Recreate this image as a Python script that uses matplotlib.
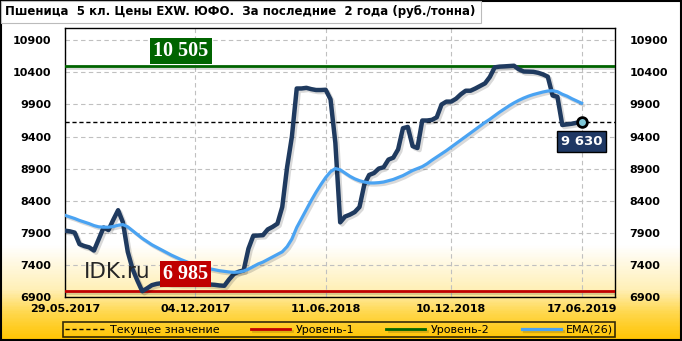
import numpy as np
import pandas as pd
import matplotlib.pyplot as plt
from matplotlib.colors import LinearSegmentedColormap
import matplotlib.patheffects as pe

# weekly prices, rub/t
price = [7930, 7920, 7900, 7720, 7690, 7670, 7620, 7800, 7980, 7940,
         8100, 8250, 8060, 7600, 7330, 7150, 6985, 7030, 7080, 7100,
         7110, 7110, 7100, 7100, 7095, 7095, 7095, 7095, 7095, 7095,
         7090, 7085, 7075, 7070, 7170, 7255, 7290, 7310, 7650, 7850,
         7855, 7860, 7950, 7990, 8040, 8300, 8920, 9400, 10150, 10150,
         10160, 10140, 10126, 10126, 10130, 9980, 9300, 8060, 8150, 8180,
         8220, 8300, 8650, 8800, 8830, 8900, 8920, 9040, 9070, 9200,
         9530, 9550, 9250, 9220, 9650, 9650, 9660, 9700, 9900, 9945,
         9945, 9990, 10060, 10115, 10115, 10150, 10190, 10230, 10330, 10480,
         10491, 10495, 10500, 10505, 10450, 10415, 10413, 10410, 10395, 10370,
         10335, 10040, 10020, 9580, 9590, 9600, 9615, 9630]

ema26 = [8170, 8145, 8120, 8090, 8065, 8040, 8010, 7990, 7985, 7985,
         7995, 8015, 8025, 7990, 7930, 7870, 7810, 7760, 7710, 7670,
         7630, 7590, 7550, 7515, 7480, 7450, 7420, 7395, 7375, 7355,
         7335, 7320, 7305, 7295, 7285, 7280, 7285, 7300, 7330, 7370,
         7410, 7440, 7480, 7520, 7560, 7600, 7680, 7800, 7980, 8120,
         8260, 8400, 8530, 8650, 8760, 8850, 8900, 8880, 8830, 8780,
         8740, 8710, 8690, 8675, 8675, 8680, 8690, 8710, 8730, 8760,
         8790, 8830, 8870, 8900, 8930, 8975, 9030, 9080, 9130, 9180,
         9235, 9290, 9345, 9400, 9455, 9510, 9565, 9620, 9670, 9725,
         9780, 9830, 9880, 9925, 9965, 10000, 10030, 10055, 10075, 10095,
         10110, 10115, 10100, 10060, 10030, 9990, 9955, 9920]

dates = pd.date_range('2017-05-29', periods=len(price), freq='7D')
tick_dates = ['29.05.2017', '04.12.2017', '11.06.2018', '10.12.2018', '17.06.2019']
level1 = 6985
level2 = 10505
current = 9630
title = 'Пшеница  5 кл. Цены EXW. ЮФО.  За последние  2 года (руб./тонна)'

plt.rcParams['font.family'] = ['DejaVu Sans']

fig = plt.figure(figsize=(6.82, 3.41), dpi=100)

# background gradient: white at top, gold at bottom
bg = fig.add_axes([0, 0, 1, 1], zorder=-10)
cmap = LinearSegmentedColormap.from_list(
    'g', [(0, '#FFC400'), (0.08, '#FFD84D'), (0.15, '#FFF0B8'), (0.28, '#FFFFFF'), (1, '#FFFFFF')])
grad = np.linspace(0, 1, 341).reshape(-1, 1)
bg.imshow(grad, aspect='auto', cmap=cmap, origin='lower', extent=[0, 1, 0, 1])
bg.set_xlim(0, 1)
bg.set_ylim(0, 1)
bg.axis('off')
bg.add_patch(plt.Rectangle((0.001, 0.002), 0.997, 0.995, fill=False, ec='black', lw=1.5))

ax = fig.add_axes([0.0953, 0.130, 0.807, 0.789])
ax.patch.set_alpha(0)
ax.set_xlim(pd.Timestamp('2017-05-29'), pd.Timestamp('2019-08-05'))
ax.set_ylim(6900, 11100)

shadow = [pe.SimpleLineShadow(offset=(1.5, -1.5), alpha=0.15), pe.Normal()]

ax.axhline(current, color='black', lw=1, ls=(0, (3, 2)), label='Текущее значение', zorder=3)
ax.axhline(level1, color='#C00000', lw=2, label='Уровень-1', zorder=3, path_effects=shadow)
ax.axhline(level2, color='#006400', lw=2, label='Уровень-2', zorder=3, path_effects=shadow)
ax.plot(dates, price, color='#1F3A5F', lw=3.2, solid_capstyle='round', solid_joinstyle='round',
        zorder=4, path_effects=shadow)
ax.plot(dates, ema26, color='#4AA3F2', lw=2.3, label='EMA(26)', zorder=5, path_effects=shadow)
ax.plot(dates[-1], price[-1], 'o', ms=7, mfc='#7FC8D8', mec='black', mew=2, zorder=6)

yt = np.arange(6900, 11000, 500)
ax.set_yticks(yt)
ax.set_yticklabels([str(v) for v in yt], fontsize=8, fontweight='bold')
ax.tick_params(axis='y', length=0, pad=10, labelright=True, right=False)
xt = [pd.to_datetime(d, dayfirst=True) for d in tick_dates]
ax.set_xticks(xt)
ax.set_xticklabels(tick_dates, fontsize=8, fontweight='bold')
ax.tick_params(axis='x', length=0, pad=5)
ax.grid(True, color='#C0C0C0', ls=(0, (4, 3)), lw=0.8)
for s in ax.spines.values():
    s.set_color('black')
    s.set_linewidth(1)

def tag(x, y, text, bg_color, size):
    ax.text(x, y, text, color='white', fontsize=size, fontweight='bold', family='Liberation Serif',
            ha='center', va='center', zorder=8,
            bbox=dict(boxstyle='square,pad=0.15', fc=bg_color, ec='none'))

tag(pd.Timestamp('2017-11-13'), 10740, '10 505', '#006400', 14.5)
tag(pd.Timestamp('2017-11-20'), 7250, '6 985', '#C00000', 14.5)
ax.text(dates[-1], 9320, '9 630', color='white', fontsize=9.5, fontweight='bold', ha='center', va='center',
        zorder=8, bbox=dict(boxstyle='square,pad=0.3', fc='#1F3864', ec='black', lw=1))
ax.text(pd.Timestamp('2017-06-26'), 7290, 'IDK.ru', fontsize=15.5, color='#262626', va='center', zorder=7)

# title box
fig.text(0.008, 0.965, title, fontsize=8.5, fontweight='bold', va='center', ha='left',
         bbox=dict(boxstyle='square,pad=0.4', fc='white', ec='#BBBBBB', lw=0.8))

leg = fig.legend(loc='lower left', bbox_to_anchor=(0.0924, 0.012, 0.81, 0.052), mode='expand',
                 ncol=4, fontsize=8, frameon=True, handlelength=3.5, borderpad=0.2,
                 handletextpad=0.5, borderaxespad=0)
leg.get_frame().set_edgecolor('black')
leg.get_frame().set_facecolor('none')
leg.get_frame().set_linewidth(1.2)
leg.get_frame().set_boxstyle('square', pad=0)

fig.savefig('out.png', dpi=100)
